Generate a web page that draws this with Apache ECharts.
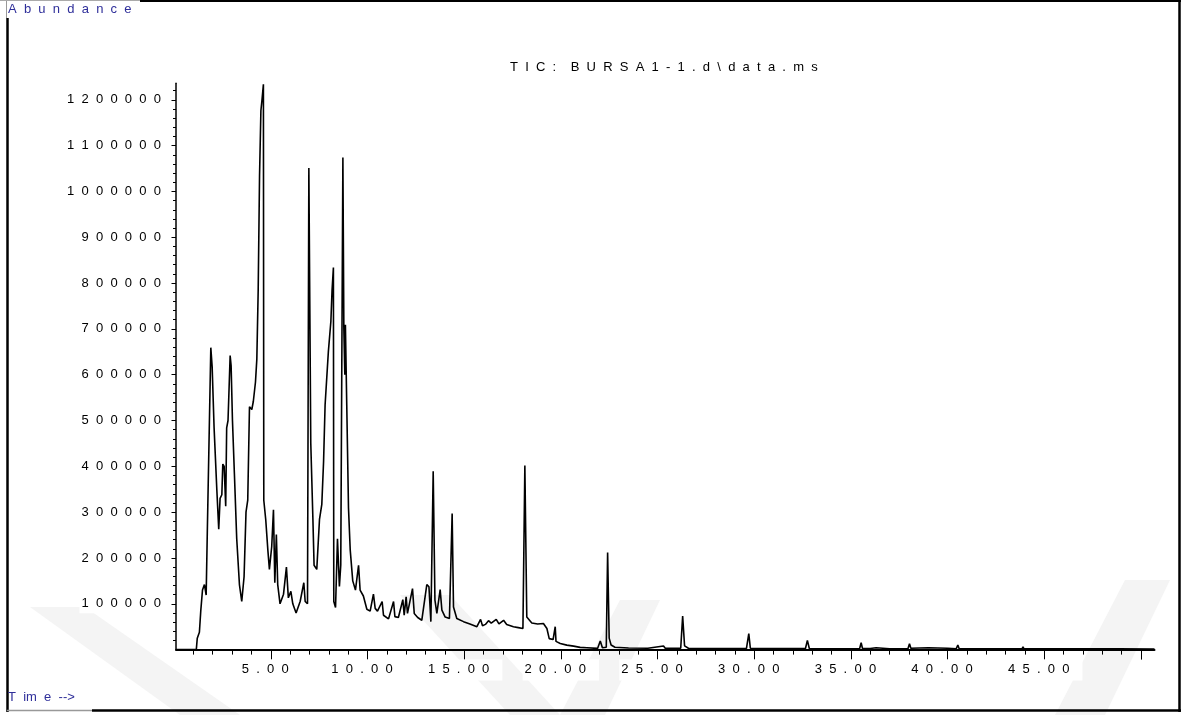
<!DOCTYPE html>
<html>
<head>
<meta charset="utf-8">
<script src="https://cdn.jsdelivr.net/npm/echarts@6/dist/echarts.min.js"></script>
<style>
  html, body { margin: 0; padding: 0; background: #fff; }
  #chart { width: 1191px; height: 715px; }
</style>
</head>
<body>
<div id="chart"></div>
<script>
// ---- Data (time in min, abundance in counts) ----
const retentionTime = [
  0.1, 1.15, 1.2, 1.31, 1.38, 1.47, 1.57, 1.66, 1.72, 1.79,
  1.9, 1.97, 2.07, 2.21, 2.31, 2.38, 2.47, 2.52, 2.59, 2.67,
  2.72, 2.79, 2.9, 2.95, 3.02, 3.12, 3.24, 3.38, 3.5, 3.62,
  3.72, 3.81, 3.9, 4.02, 4.1, 4.21, 4.28, 4.35, 4.42, 4.49,
  4.55, 4.62, 4.64, 4.74, 4.85, 4.93, 5.05, 5.14, 5.21, 5.29,
  5.36, 5.48, 5.66, 5.81, 5.91, 6.04, 6.14, 6.31, 6.52, 6.71,
  6.78, 6.9, 6.97, 7.07, 7.18, 7.24, 7.38, 7.52, 7.64, 7.73,
  7.81, 7.98, 8.11, 8.17, 8.24, 8.26, 8.35, 8.45, 8.55, 8.62,
  8.73, 8.78, 8.83, 8.86, 8.93, 9.02, 9.11, 9.24, 9.38, 9.54,
  9.62, 9.79, 9.97, 10.14, 10.31, 10.4, 10.52, 10.76, 10.83, 11.09,
  11.35, 11.42, 11.6, 11.83, 11.9, 12.0, 12.07, 12.33, 12.42, 12.6,
  12.81, 13.07, 13.18, 13.28, 13.4, 13.49, 13.59, 13.76, 13.85, 14.02,
  14.24, 14.38, 14.45, 14.62, 14.97, 15.3, 15.66, 15.85, 15.95, 16.1,
  16.26, 16.4, 16.66, 16.8, 17.04, 17.2, 17.55, 17.8, 18.04, 18.14,
  18.24, 18.5, 18.8, 19.1, 19.28, 19.4, 19.6, 19.71, 19.75, 19.97,
  20.31, 20.66, 21.0, 21.35, 21.9, 22.04, 22.15, 22.35, 22.42, 22.5,
  22.6, 22.8, 23.5, 24.5, 25.31, 25.4, 26.2, 26.3, 26.4, 26.6,
  29.6, 29.72, 29.8, 32.65, 32.75, 32.85, 35.45, 35.53, 35.6, 36.0,
  36.3, 37.0, 37.95, 38.03, 38.1, 39.0, 40.0, 40.45, 40.53, 40.6,
  43.85, 43.9, 43.95, 48.85, 48.89, 48.95, 50.7
];
const abundance = [
  0, 0, 25000, 38000, 84000, 130000, 142000, 119000, 259000, 263000,
  659000, 617000, 484000, 350000, 263000, 330000, 338000, 405000, 400000, 313000,
  484000, 500000, 642000, 620000, 500000, 384000, 242000, 142000, 105000, 159000,
  300000, 326000, 530000, 524000, 542000, 584000, 634000, 784000, 1034000, 1176000,
  1201000, 1234000, 326000, 284000, 217000, 175000, 225000, 305000, 146000, 251000,
  142000, 100000, 121000, 180000, 113000, 127000, 100000, 80000, 105000, 146000,
  105000, 100000, 1051000, 450000, 284000, 184000, 175000, 284000, 317000, 409000,
  534000, 651000, 717000, 784000, 834000, 105000, 92000, 242000, 138000, 184000,
  1074000, 700000, 600000, 709000, 534000, 309000, 217000, 150000, 130000, 184000,
  130000, 117000, 88000, 84000, 121000, 90000, 84000, 105000, 75000, 67000,
  105000, 72000, 70000, 109000, 75000, 115000, 79000, 133000, 79000, 70000,
  64000, 142000, 137000, 61000, 389000, 108000, 79000, 131000, 86000, 71000,
  68000, 297000, 93000, 68000, 61000, 56000, 50000, 66000, 52000, 55000,
  63000, 58000, 66000, 56000, 64000, 55000, 50000, 48000, 46000, 402000,
  71000, 58000, 56000, 57000, 46000, 24000, 22000, 50000, 18000, 13500,
  9800, 7600, 4800, 4000, 2600, 18700, 4000, 5000, 212000, 25000,
  10000, 5000, 3500, 3000, 8000, 3000, 3000, 73000, 8000, 3000,
  2500, 34700, 3000, 2500, 20000, 2500, 2000, 15000, 2500, 2500,
  4000, 2000, 2000, 13000, 3000, 4000, 3000, 2000, 10000, 2000,
  1500, 6000, 1500, 1500, 4800, 1500, 1000
];

// ---- Axis tick values and labels ----
const timeMajorTicks = [5, 10, 15, 20, 25, 30, 35, 40, 45, 50];
const timeLabels = [5, 10, 15, 20, 25, 30, 35, 40, 45];
const timeMinorTicks = [];
for (let m = 1; m <= 50; m++) if (m % 5 !== 0) timeMinorTicks.push(m);
const abundMajorTicks = [100000, 200000, 300000, 400000, 500000, 600000,
  700000, 800000, 900000, 1000000, 1100000, 1200000];
const abundMinorTicks = [];
for (let v = 20000; v <= 1220000; v += 20000) if (v % 100000 !== 0) abundMinorTicks.push(v);

const titleText = 'TIC: BURSA1-1.d\\data.ms';
const yAxisName = 'Abundance';
const xAxisName = 'Time-->';

const spaced = s => s.split('').join('  ');

const seriesData = retentionTime.map((t, i) => [t, abundance[i]]);

const FONT = 'Liberation Sans, Arial, sans-serif';
const TXT = '#000';
const BLUE = '#2f2f9a';
const WM = '#f4f4f4';

const chart = echarts.init(document.getElementById('chart'), null, { renderer: 'canvas' });

const wmBands = [
  [[30, 607], [85, 607], [240, 715], [180, 715]],
  [[400, 595], [450, 595], [560, 715], [510, 715]],
  [[560, 715], [605, 715], [660, 600], [620, 600]],
  [[1055, 715], [1105, 715], [1170, 580], [1125, 580]]
];

const graphics = [];
wmBands.forEach(pts => graphics.push({
  type: 'polygon', silent: true, z: -100,
  shape: { points: pts }, style: { fill: WM }
}));
// frame
const frameLine = (x1, y1, x2, y2, color, w) => ({
  type: 'line', silent: true, z: 100,
  shape: { x1, y1, x2, y2 }, style: { stroke: color, lineWidth: w }
});
graphics.push(frameLine(7.5, 18, 7.5, 712, '#000', 2.5));
graphics.push(frameLine(6.5, 0, 6.5, 18, '#999', 1));
graphics.push(frameLine(0, 0.5, 140, 0.5, '#aaa', 1));
graphics.push(frameLine(140, 1, 1181, 1, '#000', 2));
graphics.push(frameLine(1179.5, 0, 1179.5, 712, '#000', 2.5));
graphics.push(frameLine(92, 710.5, 1181, 710.5, '#000', 2.5));
graphics.push(frameLine(7, 710.5, 92, 710.5, '#999', 1.5));
// texts
graphics.push({
  type: 'text', left: 8, top: 3, z: 100,
  style: { text: spaced(yAxisName), fill: BLUE, font: '13px ' + FONT }
});
graphics.push({
  type: 'text', left: 8, top: 691, z: 100,
  style: { text: 'T  im  e  -->', fill: BLUE, font: '13px ' + FONT }
});
graphics.push({
  type: 'text', left: 510, top: 61, z: 100,
  style: { text: spaced('TIC:') + '    ' + spaced('BURSA1-1.d\\data.ms'), fill: TXT, font: '13px ' + FONT }
});

const option = {
  animation: false,
  backgroundColor: '#fff',
  grid: { left: 176, right: 36.5, top: 83.3, bottom: 65.4, containLabel: false },
  xAxis: [
    {
      type: 'value', min: 0.1, max: 50.7, position: 'bottom',
      axisLine: { show: true, onZero: false, lineStyle: { color: '#000', width: 2 } },
      axisTick: { show: true, customValues: timeMajorTicks, length: 10, lineStyle: { color: '#000', width: 1 } },
      axisLabel: {
        customValues: timeLabels, formatter: v => spaced(v.toFixed(2)),
        margin: 10, fontSize: 13, fontFamily: FONT, color: TXT,
        backgroundColor: '#fff', padding: [3, 13, 5, 2]
      },
      splitLine: { show: false }
    },
    {
      type: 'value', min: 0.1, max: 50.7, position: 'bottom',
      axisLine: { show: false, onZero: false },
      axisTick: { show: true, customValues: timeMinorTicks, length: 5, lineStyle: { color: '#000', width: 1 } },
      axisLabel: { show: false },
      splitLine: { show: false }
    }
  ],
  yAxis: [
    {
      type: 'value', min: 0, max: 1236000, position: 'left',
      axisLine: { show: true, onZero: false, lineStyle: { color: '#000', width: 1.5 } },
      axisTick: { show: true, customValues: abundMajorTicks, length: 4.5, lineStyle: { color: '#000', width: 1 } },
      axisLabel: {
        customValues: abundMajorTicks, formatter: v => spaced(String(v)),
        margin: 8, fontSize: 13, fontFamily: FONT, color: TXT,
        backgroundColor: '#fff', padding: [3, 7, 3, 2]
      },
      splitLine: { show: false }
    },
    {
      type: 'value', min: 0, max: 1236000, position: 'left',
      axisLine: { show: false, onZero: false },
      axisTick: { show: true, customValues: abundMinorTicks, length: 3, lineStyle: { color: '#000', width: 1 } },
      axisLabel: { show: false },
      splitLine: { show: false }
    }
  ],
  series: [{
    type: 'line', xAxisIndex: 0, yAxisIndex: 0,
    data: seriesData, showSymbol: false, symbol: 'none',
    lineStyle: { color: '#000', width: 1.6 },
    sampling: null, smooth: false, z: 5
  }],
  graphic: graphics
};
chart.setOption(option);
</script>
</body>
</html>
